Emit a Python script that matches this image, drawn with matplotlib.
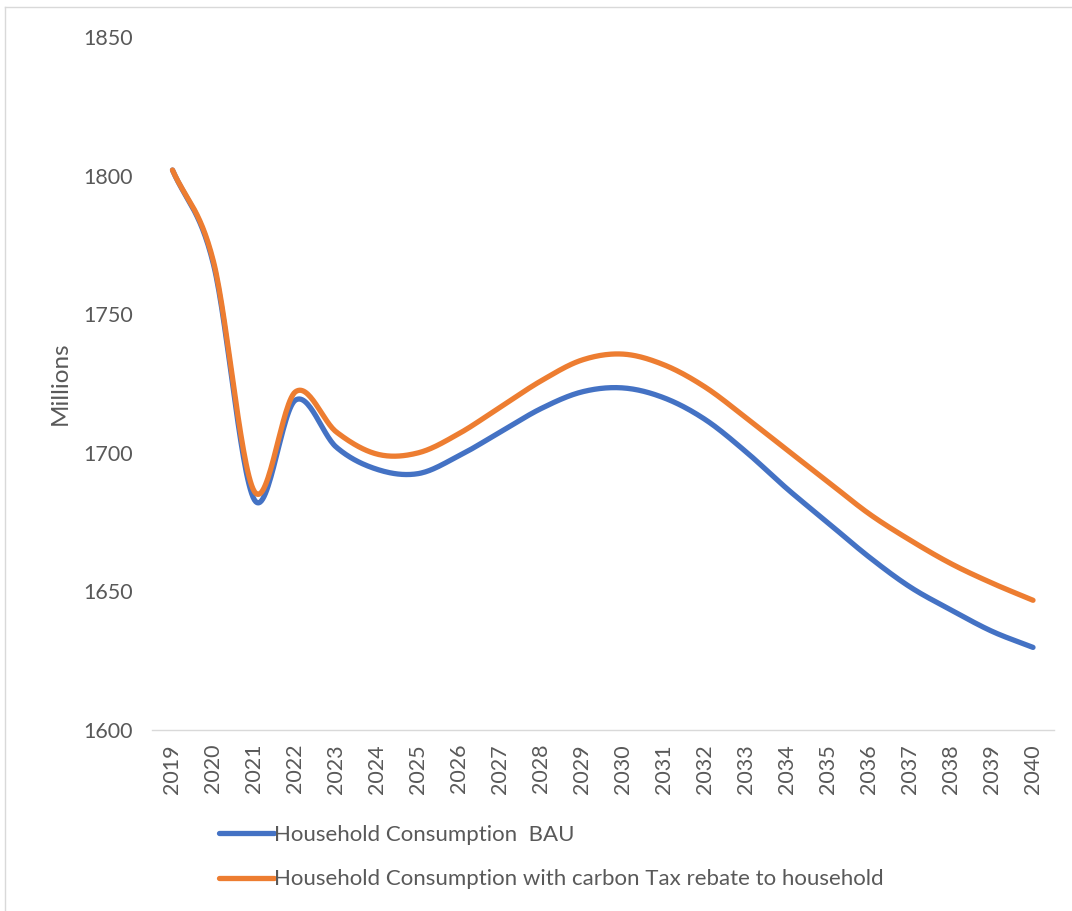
import matplotlib

matplotlib.use("Agg")
import matplotlib.pyplot as plt
import numpy as np
from matplotlib.lines import Line2D

years = list(range(2019, 2041))
bau = [1802, 1768, 1683, 1719, 1702, 1694, 1692.5, 1699, 1707.5, 1716, 1722, 1723.4,
       1719.8, 1712, 1700.3, 1687, 1674.7, 1662.4, 1651.6, 1643.3, 1635.6, 1629.8]
rebate = [1802, 1769, 1686, 1722, 1707.5, 1699.5, 1700, 1707, 1716.5, 1726, 1733.5, 1735.6,
          1731.7, 1723.7, 1712.6, 1701, 1689.5, 1678, 1668.5, 1660, 1653, 1646.8]
labels = ["Household Consumption  BAU",
          "Household Consumption with carbon Tax rebate to household"]

BLUE = "#4472C4"
ORANGE = "#ED7D31"
GREY_TXT = "#595959"

plt.rcParams["font.family"] = ["Lato", "DejaVu Sans"]


def smooth(x, y, n=30):
    # Catmull-Rom through every point, like a smoothed office line chart
    x = np.asarray(x, float)
    y = np.asarray(y, float)
    px = np.concatenate([[2 * x[0] - x[1]], x, [2 * x[-1] - x[-2]]])
    py = np.concatenate([[2 * y[0] - y[1]], y, [2 * y[-1] - y[-2]]])
    xs, ys = [], []
    t = np.linspace(0, 1, n, endpoint=False)
    for i in range(1, len(px) - 2):
        p0, p1, p2, p3 = py[i - 1], py[i], py[i + 1], py[i + 2]
        q0, q1, q2, q3 = px[i - 1], px[i], px[i + 1], px[i + 2]
        c1y, c2y = p1 + (p2 - p0) / 6, p2 - (p3 - p1) / 6
        c1x, c2x = q1 + (q2 - q0) / 6, q2 - (q3 - q1) / 6
        b = [(1 - t) ** 3, 3 * (1 - t) ** 2 * t, 3 * (1 - t) * t ** 2, t ** 3]
        xs.append(b[0] * q1 + b[1] * c1x + b[2] * c2x + b[3] * q2)
        ys.append(b[0] * p1 + b[1] * c1y + b[2] * c2y + b[3] * p2)
    xs.append([x[-1]])
    ys.append([y[-1]])
    return np.concatenate(xs), np.concatenate(ys)


W, H = 1072, 911
fig = plt.figure(figsize=(W / 100, H / 100), dpi=100)
ax = fig.add_axes([152 / W, (H - 730) / H, (1053.5 - 152) / W, (730 - 37) / H])

for vals, col in ((bau, BLUE), (rebate, ORANGE)):
    sx, sy = smooth(years, vals)
    ax.plot(sx, sy, color=col, lw=3.8, solid_capstyle="round")

ax.set_xlim(2018.5, 2040.5)
ax.set_ylim(1600, 1850)
ax.set_yticks(range(1600, 1851, 50))
ax.set_xticks(years)
ax.set_xticklabels([str(y) for y in years], rotation=90)
ax.tick_params(axis="both", length=0, labelsize=15.5, labelcolor=GREY_TXT)
ax.tick_params(axis="y", pad=14)
ax.tick_params(axis="x", pad=10)
for s in ("top", "right", "left"):
    ax.spines[s].set_visible(False)
ax.spines["bottom"].set_color("#D9D9D9")
ax.spines["bottom"].set_linewidth(1)
ax.set_ylabel("Millions", fontsize=17.5, color=GREY_TXT, labelpad=9)

handles = [Line2D([], [], color=BLUE, lw=3.8, solid_capstyle="round"),
           Line2D([], [], color=ORANGE, lw=3.8, solid_capstyle="round")]
fig.legend(handles, labels, loc="upper left", bbox_to_anchor=(210 / W, 1 - 816 / H),
           frameon=False, fontsize=16, labelcolor=GREY_TXT, handlelength=2.5,
           handletextpad=0.0, labelspacing=1.1, borderaxespad=0)

# chart area border
fig.add_artist(Line2D([5 / W, 5 / W], [0, 1 - 7 / H], color="#D9D9D9", lw=1))
fig.add_artist(Line2D([5 / W, 1], [1 - 7 / H, 1 - 7 / H], color="#D9D9D9", lw=1))

fig.savefig("out.png", dpi=100)
